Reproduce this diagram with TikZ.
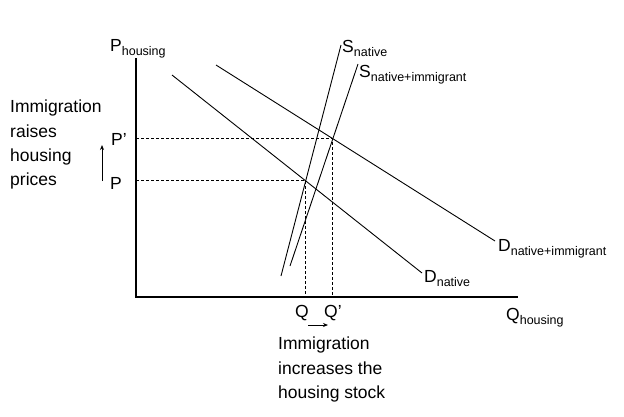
\documentclass[tikz,border=0pt]{standalone}
\usepackage{fontspec}
\setmainfont{Liberation Sans}
\usetikzlibrary{positioning,arrows.meta,intersections}

\newcommand{\sublbl}[2]{#1\raisebox{-4.5pt}{\fontsize{12.5}{12.5}\selectfont #2}}

\begin{document}
\begin{tikzpicture}[x=1pt,y=-1pt,
    axis/.style={line width=1.1pt},
    curve/.style={line width=0.9pt},
    guide/.style={line width=0.9pt, dash pattern=on 3pt off 2pt},
    lbl/.style={font=\fontsize{17.5}{24}\selectfont, inner sep=0pt},
    note/.style={lbl, align=left, font=\fontsize{17.5}{24.3}\selectfont},
    movearrow/.style={line width=0.9pt, -{Stealth[length=5pt,width=4pt]}}]
    \useasboundingbox (0,0) rectangle (624,416);

    % assi
    \coordinate (origin) at (136,297);
    \coordinate (ytop) at (136,58);
    \coordinate (xend) at (518,297);
    \draw[axis] (ytop) -- (origin) -- (xend);

    % domanda e offerta
    \coordinate (dnA) at (172,75);
    \coordinate (dnB) at (422,273);
    \coordinate (diA) at (216,65);
    \coordinate (diB) at (495,241);
    \coordinate (snA) at (281,276);
    \coordinate (snB) at (341,45);
    \coordinate (siA) at (290,266);
    \coordinate (siB) at (358,64);
    \draw[curve, name path=dn] (dnA) -- (dnB);
    \draw[curve, name path=di] (diA) -- (diB);
    \draw[curve, name path=sn] (snA) -- (snB);
    \draw[curve, name path=si] (siA) -- (siB);

    % equilibri
    \path[name intersections={of=dn and sn, by=eq}];
    \path[name intersections={of=di and si, by=eqnew}];
    \draw[guide] (origin |- eq) -- (eq) -- (eq |- origin);
    \draw[guide] (origin |- eqnew) -- (eqnew) -- (eqnew |- origin);

    % etichette
    \node[lbl, anchor=base west] (pax) at (110,51) {\sublbl{P}{housing}};
    \node[lbl, anchor=base west] (qax) at (506,320) {\sublbl{Q}{housing}};
    \node[lbl, anchor=base west] (snlbl) at (342,52) {\sublbl{S}{native}};
    \node[lbl, anchor=base west] (silbl) at (359,77) {\sublbl{S}{native+immigrant}};
    \node[lbl, anchor=base west] (dnlbl) at (424,282) {\sublbl{D}{native}};
    \node[lbl, anchor=base west] (dilbl) at (498,251) {\sublbl{D}{native+immigrant}};

    \node[lbl, anchor=base west] (pold) at (110,189) {P};
    \node[lbl, anchor=base west] (pnew) at (111,145) {P'};
    \node[lbl, anchor=base] (qold) at (302,317) {Q};
    \node[lbl, anchor=base west] (qnew) at (324,317) {Q'};

    \coordinate (upA) at (102,181);
    \coordinate (upB) at (102,145);
    \draw[movearrow] (upA) -- (upB);
    \coordinate (rtA) at (308,325);
    \coordinate (rtB) at (328,325);
    \draw[movearrow] (rtA) -- (rtB);

    \node[note, anchor=north west] (pricenote) at (10,100)
        {Immigration\\raises\\housing\\prices};
    \node[note, anchor=north west] (stocknote) at (278,337)
        {Immigration\\increases the\\housing stock};
\end{tikzpicture}
\end{document}
